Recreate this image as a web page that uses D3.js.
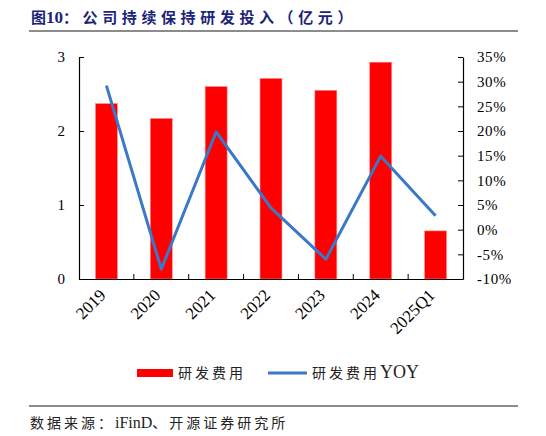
<!DOCTYPE html>
<html>
<head>
<meta charset="utf-8">
<script src="https://cdn.jsdelivr.net/npm/d3@7"></script>
<style>
  body { margin: 0; background: #fff; }
  svg text { font-family: "Liberation Serif", "Times New Roman", serif; }
  .cjk { font-family: "Noto Sans CJK SC", sans-serif !important; }
</style>
</head>
<body>
<svg id="chart"></svg>
<script>
const categories = ["2019", "2020", "2021", "2022", "2023", "2024", "2025Q1"];
const rdSpend = [2.37, 2.17, 2.60, 2.71, 2.55, 2.93, 0.65];
const rdYoy = [29.2, -8.0, 19.8, 4.4, -6.0, 14.9, 2.8];
const leftTicks = [0, 1, 2, 3];
const rightTicks = [-10, -5, 0, 5, 10, 15, 20, 25, 30, 35];

const W = 546, H = 436;
const margin = { top: 57, right: 83, bottom: 157, left: 79 };
const width = W - margin.left - margin.right;
const height = H - margin.top - margin.bottom;

const root = d3.select("#chart").attr("width", W).attr("height", H);

// title + rules
const title = root.append("text")
  .attr("x", 31).attr("y", 23)
  .attr("fill", "#1b2478")
  .attr("font-size", 15).attr("font-weight", "bold");
title.append("tspan").attr("class", "cjk").text("图");
title.append("tspan").attr("font-family", "Liberation Serif, serif").attr("font-size", 17).text("10");
title.append("tspan").attr("class", "cjk").attr("letter-spacing", 4.6).text("：公司持续保持研发投入（亿元）");
root.append("line").attr("x1", 29).attr("x2", 518).attr("y1", 31).attr("y2", 31)
  .attr("stroke", "#666").attr("stroke-width", 1.3);
root.append("line").attr("x1", 29).attr("x2", 518).attr("y1", 406).attr("y2", 406)
  .attr("stroke", "#666").attr("stroke-width", 1.3);
const src = root.append("text")
  .attr("x", 30).attr("y", 428)
  .attr("fill", "#222")
  .attr("font-size", 14);
src.append("tspan").attr("class", "cjk").attr("letter-spacing", 3).text("数据来源：");
src.append("tspan").attr("font-family", "Liberation Serif, serif").attr("font-size", 16).text("iFinD");
src.append("tspan").attr("class", "cjk").attr("letter-spacing", 3).text("、开源证券研究所");

const svg = root.append("g").attr("transform", `translate(${margin.left},${margin.top})`);

const x = d3.scaleBand().domain(categories).range([0, width]);
const yL = d3.scaleLinear().domain([0, 3]).range([height, 0]);
const yR = d3.scaleLinear().domain([-10, 35]).range([height, 0]);

// bars
svg.selectAll(".bar")
  .data(categories)
  .enter()
  .append("rect")
  .attr("class", "bar")
  .attr("x", (d) => x(d) + x.bandwidth() * 0.3)
  .attr("y", (d, i) => yL(rdSpend[i]))
  .attr("width", x.bandwidth() * 0.4)
  .attr("height", (d, i) => height - yL(rdSpend[i]))
  .attr("fill", "#ff0000")
  .attr("stroke", "#ff8a8a").attr("stroke-width", 0.6);

// line
const line = d3.line()
  .x((d, i) => x(categories[i]) + x.bandwidth() / 2)
  .y((d) => yR(d));
svg.append("path")
  .datum(rdYoy)
  .attr("d", line)
  .attr("fill", "none")
  .attr("stroke", "#3a78c8")
  .attr("stroke-width", 3)
  .attr("stroke-linejoin", "round");

// axes
const leftAxis = svg.append("g")
  .call(d3.axisLeft(yL).tickValues(leftTicks).tickFormat(d3.format("d")).tickSizeInner(-5).tickSizeOuter(0).tickPadding(14));
const rightAxis = svg.append("g")
  .attr("transform", `translate(${width},0)`)
  .call(d3.axisRight(yR).tickValues(rightTicks).tickFormat((d) => d + "%").tickSizeInner(-5).tickSizeOuter(0).tickPadding(14));
const bottomAxis = svg.append("g")
  .attr("transform", `translate(0,${height})`)
  .call(d3.axisBottom(x).tickSize(0).tickPadding(10));

// bottom ticks at band boundaries, pointing up
svg.selectAll(".btick")
  .data(categories.slice(1))
  .enter()
  .append("line")
  .attr("x1", (d) => x(d)).attr("x2", (d) => x(d))
  .attr("y1", height).attr("y2", height - 5)
  .attr("stroke", "#000");

[leftAxis, rightAxis, bottomAxis].forEach((g) => {
  g.select(".domain").attr("stroke", "#000").attr("stroke-width", 1.2);
  g.selectAll(".tick line").attr("stroke", "#000");
  g.selectAll("text")
    .attr("font-family", "Liberation Serif, serif")
    .attr("font-size", 15)
    .attr("fill", "#000");
});
rightAxis.selectAll("text").attr("letter-spacing", 0.6);

bottomAxis.selectAll("text")
  .attr("font-size", 17)
  .attr("text-anchor", "end")
  .attr("dy", "0.35em")
  .attr("transform", "translate(-11,6) rotate(-45)");

// legend
const lg = root.append("g").attr("transform", "translate(0,373)");
lg.append("rect").attr("x", 137).attr("y", -4).attr("width", 36).attr("height", 8).attr("fill", "#ff0000");
lg.append("text").attr("class", "cjk").attr("x", 178).attr("y", 5)
  .attr("font-size", 14).attr("letter-spacing", 3).attr("fill", "#222")
  .text("研发费用");
lg.append("line").attr("x1", 268).attr("x2", 307).attr("y1", 0).attr("y2", 0)
  .attr("stroke", "#3a78c8").attr("stroke-width", 3);
const t2 = lg.append("text").attr("x", 312).attr("y", 5).attr("fill", "#222");
t2.append("tspan").attr("class", "cjk").attr("font-size", 14).attr("letter-spacing", 3).text("研发费用");
t2.append("tspan").attr("font-size", 18).attr("font-family", "Liberation Serif, serif").text("YOY");
</script>
</body>
</html>
